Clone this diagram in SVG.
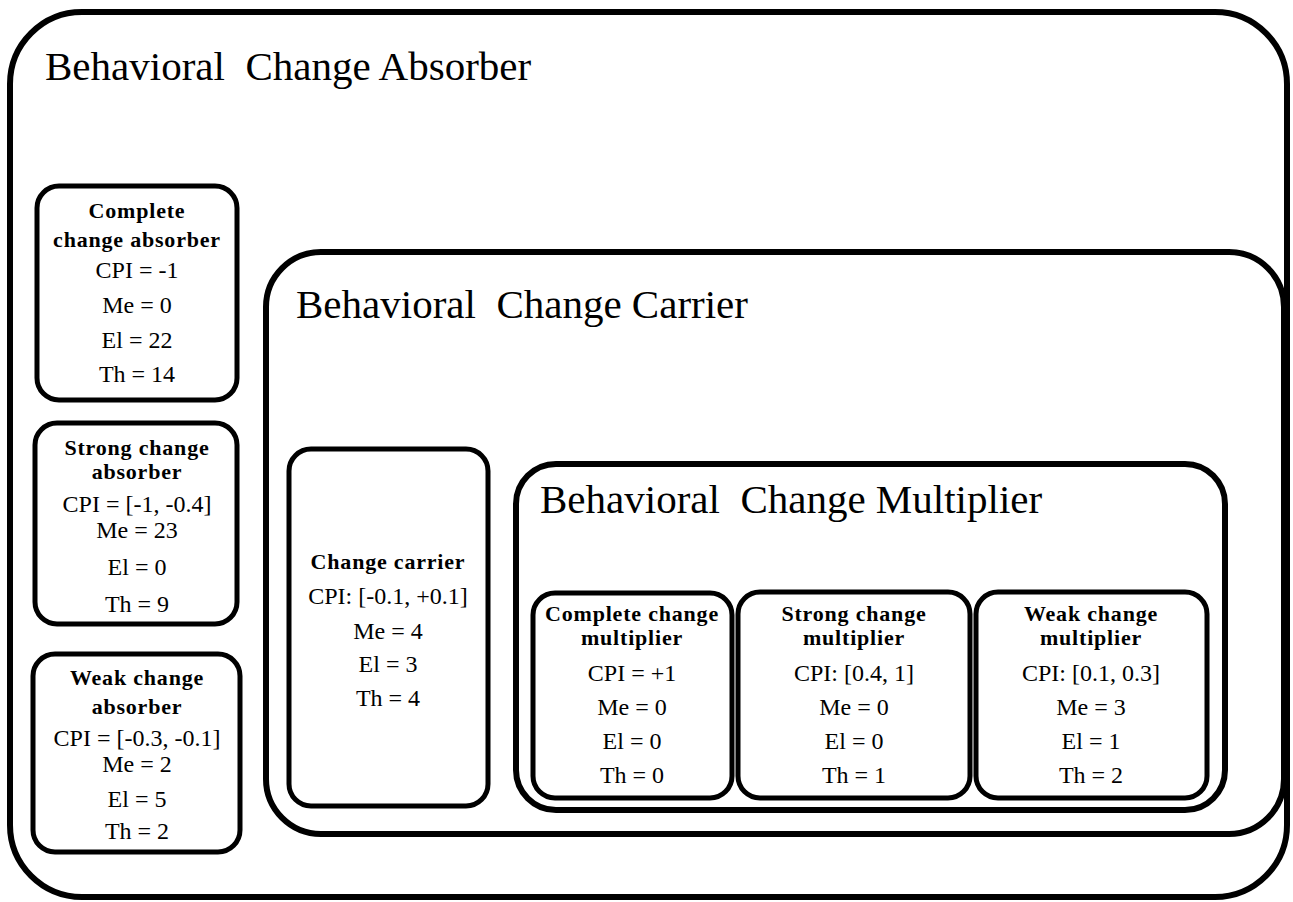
<svg xmlns="http://www.w3.org/2000/svg" width="1293" height="902" viewBox="0 0 1293 902">
<style>
.box{fill:none;stroke:#000;stroke-width:5}
.big{fill:none;stroke:#000;stroke-width:6}
.h{font-family:"Liberation Serif",serif;font-size:41px;fill:#000}
.b{font-family:"Liberation Serif",serif;font-size:22px;font-weight:bold;text-anchor:middle;fill:#000;letter-spacing:0.8px}
.t{font-family:"Liberation Serif",serif;font-size:24px;text-anchor:middle;fill:#000}
</style>
<rect width="1293" height="902" fill="#fff"/>
<g id="absorber">
<rect class="big" x="10" y="12" width="1277" height="885" rx="72"/>
<text class="h" x="45" y="80" xml:space="preserve">Behavioral  Change Absorber</text>
</g>
<g id="complete-absorber">
<rect class="box" x="37" y="186" width="200" height="214" rx="22"/>
<text class="b" x="137" y="218">Complete</text>
<text class="b" x="137" y="247">change absorber</text>
<text class="t" x="137" y="278">CPI = -1</text>
<text class="t" x="137" y="313">Me = 0</text>
<text class="t" x="137" y="348">El = 22</text>
<text class="t" x="137" y="382">Th = 14</text>
</g>
<g id="strong-absorber">
<rect class="box" x="35" y="423" width="202" height="201" rx="22"/>
<text class="b" x="137" y="455">Strong change</text>
<text class="b" x="137" y="479">absorber</text>
<text class="t" x="137" y="512">CPI = [-1, -0.4]</text>
<text class="t" x="137" y="538">Me = 23</text>
<text class="t" x="137" y="575">El = 0</text>
<text class="t" x="137" y="612">Th = 9</text>
</g>
<g id="weak-absorber">
<rect class="box" x="33" y="654" width="207" height="198" rx="22"/>
<text class="b" x="137" y="685">Weak change</text>
<text class="b" x="137" y="714">absorber</text>
<text class="t" x="137" y="746">CPI = [-0.3, -0.1]</text>
<text class="t" x="137" y="772">Me = 2</text>
<text class="t" x="137" y="807">El = 5</text>
<text class="t" x="137" y="839">Th = 2</text>
</g>
<g id="carrier">
<rect class="big" x="266" y="252" width="1018" height="582" rx="55"/>
<text class="h" x="296" y="318" xml:space="preserve">Behavioral  Change Carrier</text>
</g>
<g id="change-carrier">
<rect class="box" x="289" y="449" width="199" height="357" rx="22"/>
<text class="b" x="388" y="569">Change carrier</text>
<text class="t" x="388" y="604">CPI: [-0.1, +0.1]</text>
<text class="t" x="388" y="639">Me = 4</text>
<text class="t" x="388" y="672">El = 3</text>
<text class="t" x="388" y="706">Th = 4</text>
</g>
<g id="multiplier">
<rect class="big" x="516" y="464" width="709" height="346" rx="40"/>
<text class="h" x="540" y="513" xml:space="preserve">Behavioral  Change Multiplier</text>
</g>
<g id="complete-multiplier">
<rect class="box" x="533" y="593" width="199" height="205" rx="22"/>
<text class="b" x="632" y="621">Complete change</text>
<text class="b" x="632" y="645">multiplier</text>
<text class="t" x="632" y="681">CPI = +1</text>
<text class="t" x="632" y="715">Me = 0</text>
<text class="t" x="632" y="749">El = 0</text>
<text class="t" x="632" y="783">Th = 0</text>
</g>
<g id="strong-multiplier">
<rect class="box" x="738" y="592" width="232" height="206" rx="22"/>
<text class="b" x="854" y="621">Strong change</text>
<text class="b" x="854" y="645">multiplier</text>
<text class="t" x="854" y="681">CPI: [0.4, 1]</text>
<text class="t" x="854" y="715">Me = 0</text>
<text class="t" x="854" y="749">El = 0</text>
<text class="t" x="854" y="783">Th = 1</text>
</g>
<g id="weak-multiplier">
<rect class="box" x="976" y="592" width="231" height="206" rx="22"/>
<text class="b" x="1091" y="621">Weak change</text>
<text class="b" x="1091" y="645">multiplier</text>
<text class="t" x="1091" y="681">CPI: [0.1, 0.3]</text>
<text class="t" x="1091" y="715">Me = 3</text>
<text class="t" x="1091" y="749">El = 1</text>
<text class="t" x="1091" y="783">Th = 2</text>
</g>
<g id="connectors"></g>
</svg>
